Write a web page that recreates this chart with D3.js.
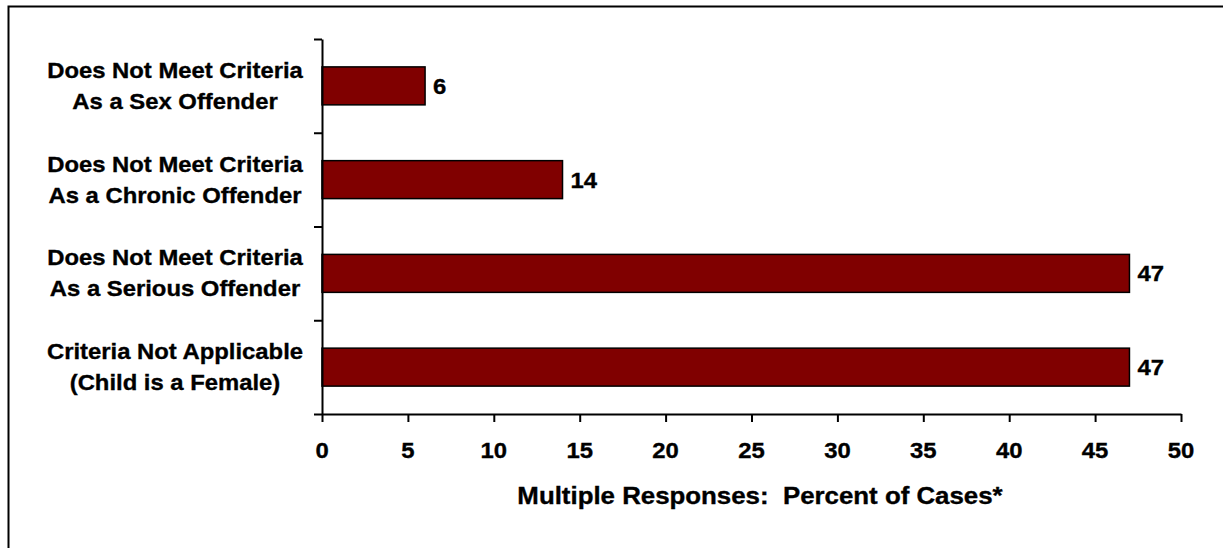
<!DOCTYPE html>
<html>
<head>
<meta charset="utf-8">
<script src="https://cdn.jsdelivr.net/npm/d3@7"></script>
<style>
  body { margin: 0; background: #fff; }
  svg { display: block; }
  text { font-family: Arial, "Liberation Sans", sans-serif; font-weight: bold; fill: #000; stroke: #000; stroke-width: 0.35px; white-space: pre; }
</style>
</head>
<body>
<script>
var w = 1223, h = 548;

// data
var categories = [
  ["Does Not Meet Criteria", "As a Sex Offender"],
  ["Does Not Meet Criteria", "As a Chronic Offender"],
  ["Does Not Meet Criteria", "As a Serious Offender"],
  ["Criteria Not Applicable", "(Child is a Female)"]
];
var values = [6, 14, 47, 47];
var xTicks = [0, 5, 10, 15, 20, 25, 30, 35, 40, 45, 50];
var xTitle = "Multiple Responses:  Percent of Cases*";

var fs = 22.5;
var sx = 1.06; // text in the original is a touch wider than Arial

var svg = d3.select("body")
  .append("svg")
  .attr("width", w)
  .attr("height", h);

// outer frame (right and bottom edges run off the picture)
svg.append("rect")
  .attr("x", 8.5).attr("y", 6.5)
  .attr("width", w).attr("height", h)
  .attr("fill", "none")
  .attr("stroke", "#000")
  .attr("stroke-width", 2);

var x = d3.scaleLinear().domain([0, 50]).range([322, 1181]);
var y = d3.scaleBand()
  .domain(d3.range(values.length))
  .range([39, 414])
  .paddingInner(0.595)
  .paddingOuter(0.2975);

function stext(sel, tx, ty, s) {
  return sel.attr("transform", "translate(" + tx + "," + ty + ") scale(" + (s || sx) + ",1)");
}

// bars
svg.selectAll("rect.bar")
  .data(values)
  .enter()
  .append("rect")
  .attr("class", "bar")
  .attr("x", x(0))
  .attr("y", function(d, i) { return y(i); })
  .attr("width", function(d) { return x(d) - x(0); })
  .attr("height", y.bandwidth())
  .attr("fill", "#800000")
  .attr("stroke", "#000")
  .attr("stroke-width", 1.5);

// value labels
svg.selectAll("text.val")
  .data(values)
  .enter()
  .append("text")
  .attr("class", "val")
  .style("font-size", fs + "px")
  .attr("dy", "0.36em")
  .each(function(d, i) {
    stext(d3.select(this), x(d) + 8, y(i) + y.bandwidth() / 2);
  })
  .text(function(d) { return d; });

// x axis
var xAxis = svg.append("g")
  .attr("transform", "translate(0,414)")
  .call(d3.axisBottom(x).tickValues(xTicks).tickSize(8).tickSizeOuter(0).tickFormat(d3.format("d")));
xAxis.select(".domain").attr("stroke", "#000").attr("stroke-width", 2);
xAxis.selectAll(".tick line").attr("stroke", "#000").attr("stroke-width", 2);
xAxis.selectAll(".tick text").remove();

svg.selectAll("text.xt")
  .data(xTicks)
  .enter()
  .append("text")
  .attr("class", "xt")
  .style("font-size", fs + "px")
  .attr("text-anchor", "middle")
  .attr("dy", "0.36em")
  .each(function(d) { stext(d3.select(this), x(d), 450); })
  .text(function(d) { return d; });

// y axis: ticks on the category boundaries
var yAxisScale = d3.scaleLinear().domain([0, values.length]).range([39, 414]);
var yAxis = svg.append("g")
  .attr("transform", "translate(322,0)")
  .call(d3.axisLeft(yAxisScale).ticks(values.length).tickSize(8).tickSizeOuter(0).tickFormat(""));
yAxis.select(".domain").attr("stroke", "#000").attr("stroke-width", 2);
yAxis.selectAll(".tick line").attr("stroke", "#000").attr("stroke-width", 2);

// category labels, two lines each, centred
var cat = svg.selectAll("g.cat")
  .data(categories)
  .enter()
  .append("g")
  .attr("class", "cat");
cat.each(function(lines, i) {
  var cy = y(i) + y.bandwidth() / 2;
  d3.select(this).selectAll("text")
    .data(lines)
    .enter()
    .append("text")
    .style("font-size", fs + "px")
    .attr("text-anchor", "middle")
    .each(function(t, j) {
      stext(d3.select(this), 175, cy - 8 + j * 31);
    })
    .text(function(t) { return t; });
});

// axis title
stext(svg.append("text")
  .style("font-size", "23.5px")
  .attr("text-anchor", "middle")
  .text(xTitle), 760, 504, 1.1);
</script>
</body>
</html>
